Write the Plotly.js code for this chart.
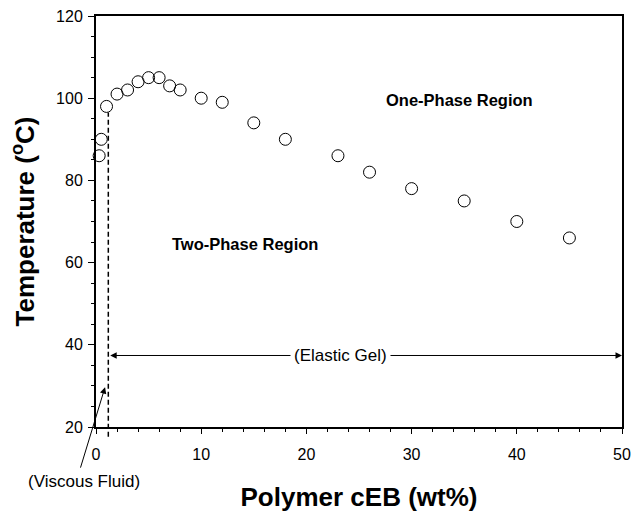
<!DOCTYPE html>
<html>
<head>
<meta charset="utf-8">
<script src="https://cdn.plot.ly/plotly-3.0.1.min.js"></script>
<style>html,body{margin:0;padding:0;background:#fff;}#chart{width:632px;height:514px;}</style>
</head>
<body>
<div id="chart"></div>
<script>
// Data
const polymerWt = [0.3, 0.5, 1, 2, 3, 4, 5, 6, 7, 8, 10, 12, 15, 18, 23, 26, 30, 35, 40, 45];
const temperatureC = [86, 90, 98, 101, 102, 104, 105, 105, 103, 102, 100, 99, 94, 90, 86, 82, 78, 75, 70, 66];

const xTickVals = [0, 10, 20, 30, 40, 50];
const yTickVals = [20, 40, 60, 80, 100, 120];

// Annotation anchors (data units)
const gelLineT = 37.4;
const gelLeftX = 1.35;
const gelRightX = 50;
const gelTextX = 23.2;
const boundaryX = 1.17;
const viscousHead = [0.86, 29.7];

const FONT = 'Liberation Sans, Arial, Helvetica, sans-serif';

const trace = {
  x: polymerWt,
  y: temperatureC,
  mode: 'markers',
  type: 'scatter',
  marker: {symbol: 'circle-open', size: 12, color: '#000', line: {width: 1, color: '#000'}},
  cliponaxis: false,
  showlegend: false,
  hoverinfo: 'x+y'
};

const layout = {
  width: 632,
  height: 514,
  margin: {l: 96, r: 10, t: 16, b: 87},
  paper_bgcolor: '#fff',
  plot_bgcolor: '#fff',
  font: {family: FONT, color: '#000', size: 16},
  showlegend: false,
  xaxis: {
    range: [0, 50],
    tickvals: xTickVals,
    ticks: 'outside', ticklen: 5, tickwidth: 1, tickcolor: '#000',
    ticklabelstandoff: 7,
    minor: {dtick: 2, ticks: 'outside', ticklen: 3, tickwidth: 1, tickcolor: '#000', showgrid: false},
    showline: true, linewidth: 2, linecolor: '#000', mirror: true,
    showgrid: false, zeroline: false,
    tickfont: {size: 16, family: FONT},
    title: {text: 'Polymer cEB (wt%)', font: {size: 26, weight: 'bold', family: FONT}, standoff: 26}
  },
  yaxis: {
    range: [20, 120],
    tickvals: yTickVals,
    ticks: 'outside', ticklen: 6, tickwidth: 1, tickcolor: '#000',
    ticklabelstandoff: 2,
    minor: {dtick: 5, ticks: 'outside', ticklen: 3, tickwidth: 1, tickcolor: '#000', showgrid: false},
    showline: true, linewidth: 2, linecolor: '#000', mirror: true,
    showgrid: false, zeroline: false,
    tickfont: {size: 16, family: FONT},
    title: {text: 'Temperature (<sup>o</sup>C)', font: {size: 26, weight: 'bold', family: FONT}, standoff: 14}
  },
  shapes: [
    {type: 'line', xref: 'x', yref: 'paper', x0: boundaryX, x1: boundaryX, y0: -0.024, y1: 0.765,
     line: {color: '#000', width: 1.5, dash: '5px,3px'}, layer: 'above'}
  ],
  annotations: [
    {x: gelLeftX, y: gelLineT, xref: 'x', yref: 'y', ax: gelTextX, ay: gelLineT, axref: 'x', ayref: 'y',
     text: '', showarrow: true, arrowhead: 2, arrowsize: 1.3, arrowwidth: 1, arrowcolor: '#000'},
    {x: gelRightX, y: gelLineT, xref: 'x', yref: 'y', ax: gelTextX, ay: gelLineT, axref: 'x', ayref: 'y',
     text: '', showarrow: true, arrowhead: 2, arrowsize: 1.3, arrowwidth: 1, arrowcolor: '#000'},
    {x: gelTextX, y: gelLineT, xref: 'x', yref: 'y', text: '(Elastic Gel)', showarrow: false,
     font: {size: 17, family: FONT}, bgcolor: '#fff', borderpad: 3},
    {x: 34.6, y: 99.5, xref: 'x', yref: 'y', text: '<b>One-Phase Region</b>', showarrow: false,
     font: {size: 16.5, family: FONT}},
    {x: 14.2, y: 64.5, xref: 'x', yref: 'y', text: '<b>Two-Phase Region</b>', showarrow: false,
     font: {size: 16.5, family: FONT}},
    {x: viscousHead[0], y: viscousHead[1], xref: 'x', yref: 'y', ax: -25, ay: 82,
     text: '', showarrow: true, arrowhead: 2, arrowsize: 1.3, arrowwidth: 1, arrowcolor: '#000'},
    {x: (84 - 96) / 526, y: (427 - 481) / 411, xref: 'paper', yref: 'paper', text: '(Viscous Fluid)',
     showarrow: false, font: {size: 17, family: FONT}, xanchor: 'center', yanchor: 'middle'}
  ]
};

Plotly.newPlot('chart', [trace], layout, {displayModeBar: false, staticPlot: true});
</script>
</body>
</html>
